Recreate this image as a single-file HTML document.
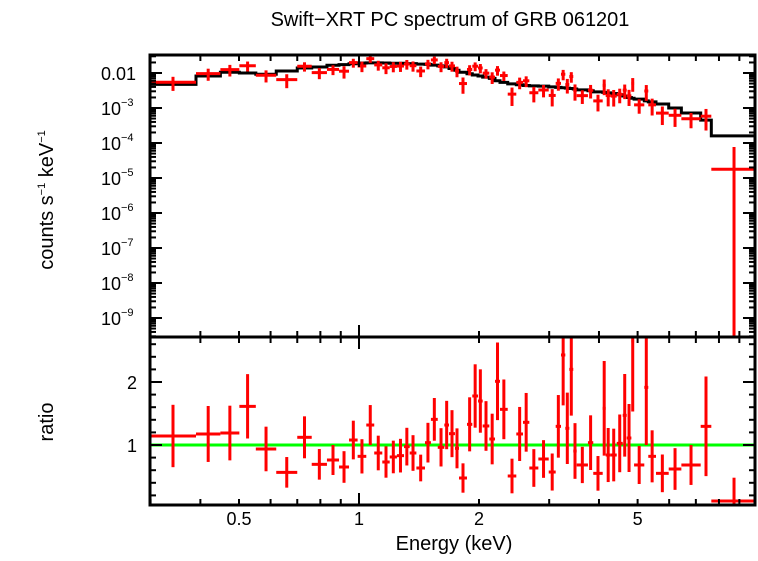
<!DOCTYPE html>
<html><head><meta charset="utf-8"><style>
body{margin:0;background:#fff}
svg text{font-family:"Liberation Sans",sans-serif;fill:#000}
</style></head><body>
<svg id="chart" width="758" height="556" viewBox="0 0 758 556" xmlns="http://www.w3.org/2000/svg">
<text x="450" y="26" font-size="20" text-anchor="middle">Swift−XRT PC spectrum of GRB 061201</text>
<text transform="translate(53,200) rotate(-90)" font-size="20" text-anchor="middle">counts s<tspan font-size="11" dy="-8">−1</tspan><tspan dy="8"> keV</tspan><tspan font-size="11" dy="-8">−1</tspan></text>
<text transform="translate(53,422) rotate(-90)" font-size="20" text-anchor="middle">ratio</text>
<text x="454" y="550" font-size="20" text-anchor="middle">Energy (keV)</text>
<g id="g"></g>
</svg>
<script>
const binEdges=[0.299,0.390,0.449,0.501,0.551,0.620,0.700,0.761,0.831,0.891,0.944,0.992,1.043,1.092,1.144,1.194,1.245,1.297,1.340,1.393,1.464,1.515,1.576,1.637,1.682,1.741,1.782,1.866,1.924,1.989,2.043,2.123,2.194,2.258,2.361,2.481,2.579,2.675,2.818,2.992,3.115,3.212,3.293,3.370,3.448,3.517,3.753,3.870,4.087,4.158,4.280,4.432,4.588,4.695,4.823,4.899,5.197,5.318,5.560,5.984,6.438,7.198,7.654,9.95];
const ratioVals=[1.143,1.175,1.190,1.614,0.937,0.566,1.122,0.693,0.762,0.651,1.079,0.820,1.317,0.873,0.730,0.810,0.831,0.974,0.873,0.635,1.037,1.407,0.963,1.317,1.180,0.947,0.476,1.328,1.778,1.698,1.302,1.095,2.011,1.566,0.508,1.175,1.360,0.635,0.778,0.571,1.296,2.429,1.265,2.201,0.905,0.683,1.037,0.550,1.582,0.841,0.841,1.026,1.471,1.111,2.651,0.683,1.915,0.820,0.550,0.619,0.683,1.296,0.111];
const ratioErrs=[0.495,0.444,0.434,0.511,0.354,0.243,0.333,0.243,0.238,0.251,0.307,0.272,0.317,0.275,0.249,0.259,0.267,0.299,0.283,0.212,0.315,0.339,0.304,0.384,0.373,0.317,0.233,0.429,0.503,0.503,0.394,0.402,0.616,0.474,0.275,0.429,0.466,0.299,0.299,0.294,0.497,0.80,0.566,0.735,0.442,0.288,0.434,0.275,0.751,0.429,0.418,0.458,0.656,0.540,1.12,0.302,0.915,0.413,0.299,0.331,0.317,0.791,0.37];
const modelVals=[0.00475,0.0082,0.0105,0.010,0.0092,0.0114,0.0139,0.0148,0.0166,0.0173,0.0184,0.0193,0.0195,0.0195,0.0193,0.019,0.019,0.0185,0.0185,0.018,0.0176,0.0168,0.016,0.015,0.0135,0.012,0.0105,0.0095,0.0088,0.0082,0.0076,0.0070,0.006,0.0054,0.0049,0.0046,0.0044,0.0043,0.0042,0.0040,0.0039,0.0038,0.0037,0.0036,0.0035,0.0033,0.0031,0.0029,0.0028,0.0027,0.0026,0.0024,0.0022,0.0020,0.0019,0.0018,0.0016,0.0015,0.0013,0.0010,0.00072,0.00045,0.00016];
const xTickLabels=["0.5","1","2","5"];
const yTopTickLabels=["0.01","10","10","10","10","10","10","10"];
const yTopExps=["","−3","−4","−5","−6","−7","−8","−9"];
const yBotTickLabels=["1","2"];

const L=150,R=755,T1=55,B1=337,B2=505;
const X=e=>359+398.6*Math.log10(e);
const Yt=v=>73-35*(Math.log10(v)+2);
const Yb=r=>445-63*(r-1);
const g=document.getElementById('g');
const NS='http://www.w3.org/2000/svg';
function mk(t,a,name){const el=document.createElementNS(NS,t);for(const k in a)el.setAttribute(k,a[k]);


g.appendChild(el);return el;}
function ln(x1,y1,x2,y2,c,w,name){return mk('line',{x1,y1,x2,y2,stroke:c,'stroke-width':w},name);}
const clipT=v=>Math.max(T1,Math.min(B1,v));
const clipB=v=>Math.max(B1,Math.min(B2,v));

let d='';
modelVals.forEach((m,i)=>{const y=Yt(m);const x1=X(binEdges[i]),x2=Math.min(R,X(binEdges[i+1]));d+=(i?'L':'M')+x1+' '+y+'L'+x2+' '+y;});
mk('path',{d,fill:'none',stroke:'#000','stroke-width':3},'model-step-line');
ln(L,Yb(1),R,Yb(1),'#00ff00',3,'unity-ratio-line');

ratioVals.forEach((r,i)=>{
  const e1=binEdges[i],e2=binEdges[i+1],ec=Math.sqrt(e1*e2);
  const xc=X(ec),x1=X(e1),x2=Math.min(R,X(e2));
  const m=modelVals[i],c=r*m,ce=ratioErrs[i]*m;
  const yc=Yt(c),yh=clipT(Yt(c+ce)),yl=c-ce>0?clipT(Yt(c-ce)):B1;
  if(yc>=T1&&yc<=B1)ln(x1,yc,x2,yc,'#ff0000',3,'data-point-top');
  ln(xc,yh,xc,yl,'#ff0000',3,'data-errorbar-top');
  const rb=Yb(r);
  if(rb>=B1&&rb<=B2)ln(x1,rb,x2,rb,'#ff0000',3,'ratio-point');
  ln(xc,clipB(Yb(r+ratioErrs[i])),xc,clipB(Yb(r-ratioErrs[i])),'#ff0000',3,'ratio-errorbar');
});

mk('rect',{x:L,y:T1,width:R-L,height:B1-T1,fill:'none',stroke:'#000','stroke-width':3},'top-panel-frame');
mk('rect',{x:L,y:B1,width:R-L,height:B2-B1,fill:'none',stroke:'#000','stroke-width':3},'bottom-panel-frame');

const minor=[0.3,0.4,0.5,0.6,0.7,0.8,0.9,2,3,4,5,6,7,8,9];
minor.forEach(e=>{const x=X(e);[[T1,T1+6],[B1-6,B1+6],[B2-6,B2]].forEach(p=>ln(x,p[0],x,p[1],'#000',2,'x-tick'));});
[1].forEach(e=>{const x=X(e);[[T1,T1+12],[B1-12,B1+12],[B2-12,B2]].forEach(p=>ln(x,p[0],x,p[1],'#000',2,'x-major-tick'));});
xTickLabels.forEach(t=>{const el=mk('text',{x:X(parseFloat(t)),y:525,'font-size':18,'text-anchor':'middle'},'x-tick-label');el.textContent=t;});

for(let p=-10;p<=-2;p++){for(let k=1;k<10;k++){const y=Yt(k*Math.pow(10,p));if(y<T1||y>B1)continue;const len=k==1?12:6;
ln(L,y,L+len,y,'#000',2,'y-tick-left');ln(R-len,y,R,y,'#000',2,'y-tick-right');}}
yTopTickLabels.forEach((t,i)=>{const v=Math.pow(10,-2-i);const el=mk('text',{x:i?121:136,y:Yt(v)+7,'font-size':18,'text-anchor':'end'},'y-tick-label-top');el.textContent=t;
if(yTopExps[i]){const s=mk('text',{x:121,y:Yt(v)-2,'font-size':11,'text-anchor':'start'},'y-tick-exponent');s.textContent=yTopExps[i];}});

for(let k=1;k<=13;k++){const r=k*0.2;const y=Yb(r);if(y<B1||y>B2)continue;const len=(Math.abs(r-1)<0.01||Math.abs(r-2)<0.01)?12:6;
ln(L,y,L+len,y,'#000',2,'ratio-tick-left');ln(R-len,y,R,y,'#000',2,'ratio-tick-right');}
yBotTickLabels.forEach(t=>{const el=mk('text',{x:137,y:Yb(parseFloat(t))+7,'font-size':18,'text-anchor':'end'},'ratio-tick-label');el.textContent=t;});
</script>
</body></html>
